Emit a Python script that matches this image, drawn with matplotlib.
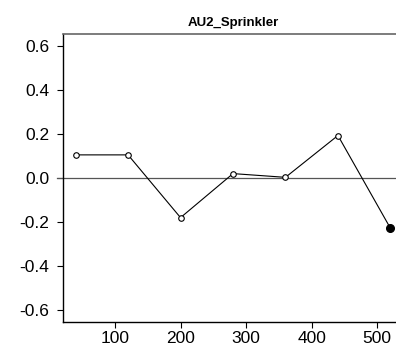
import matplotlib
matplotlib.use("Agg")
import matplotlib.pyplot as plt

plt.rcParams['font.family'] = ['Liberation Sans', 'DejaVu Sans']

# data
tid = [40, 120, 200, 280, 360, 440, 520]
verdi = [0.105, 0.105, -0.18, 0.02, 0.003, 0.193, -0.228]
tittel = "AU2_Sprinkler"
y_ticks = [-0.6, -0.4, -0.2, 0.0, 0.2, 0.4, 0.6]
x_ticks = [100, 200, 300, 400, 500]

fig = plt.figure(figsize=(3.96, 3.5), dpi=100)
ax = fig.add_axes([63 / 396, 28 / 350, 340 / 396, 288 / 350])

ax.plot(tid, verdi, color='black', lw=0.8, zorder=3)
ax.plot(tid[:-1], verdi[:-1], 'o', ms=4, mfc='white', mec='black', mew=0.8, zorder=4)
ax.plot(tid[-1], verdi[-1], 'o', ms=5.5, color='black', zorder=4)

ax.axhline(0, xmin=-0.018, xmax=1, color='#555555', lw=0.9, clip_on=False, zorder=2)

ax.set_xlim(20.8, 539.2)
ax.set_ylim(-0.654, 0.654)
ax.set_xticks(x_ticks)
ax.set_yticks(y_ticks)
ax.set_yticklabels([f"{v:.1f}" for v in y_ticks])

ax.spines['right'].set_visible(False)
ax.spines['top'].set_color('#666666')
ax.spines['top'].set_linewidth(1.2)
ax.spines['left'].set_linewidth(1.0)
ax.spines['bottom'].set_linewidth(1.0)
ax.tick_params(direction='out', length=4.5, width=0.8, labelsize=12.5)
ax.tick_params(axis='y', pad=5.5)
ax.tick_params(axis='x', pad=2)

ax.set_title(tittel, fontsize=9.5, fontweight='bold', pad=6)

fig.savefig("out.png", dpi=100)
